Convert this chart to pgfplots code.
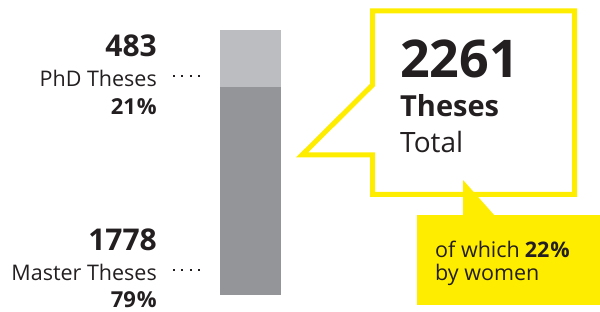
\documentclass[border=0pt]{standalone}
\usepackage{pgfplots}
\pgfplotsset{compat=1.18}
\usepackage{fontspec}
\setmainfont{Open Sans}
\definecolor{lgray}{HTML}{BCBDC0}
\definecolor{dgray}{HTML}{939598}
\definecolor{yel}{HTML}{FFED00}
\definecolor{txt}{HTML}{231F20}
\begin{document}
\begin{tikzpicture}[x=1pt,y=1pt]
\path (0,0) rectangle (600,311);
\begin{axis}[at={(220pt,16pt)},anchor=south west,scale only axis,
  width=61pt,height=265pt,xmin=0,xmax=1,ymin=0,ymax=2261,
  hide axis,clip=false,ybar stacked,bar width=61pt,bar shift=0pt]
\addplot[fill=dgray,draw=none] coordinates {(0.5,1778)};
\addplot[fill=lgray,draw=none] coordinates {(0.5,483)};
\end{axis}
% left labels
\begin{scope}[every node/.style={inner sep=0pt,text=txt}]
\node[anchor=base east,font=\fontsize{30}{30}\selectfont\bfseries] at (157,254) {483};
\node[anchor=base east,font=\fontsize{21.5}{21.5}\selectfont] at (157,224) {PhD Theses};
\node[anchor=base east,font=\fontsize{22}{22}\selectfont\bfseries] at (157,196) {21\hspace{1pt}\%};
\node[anchor=base east,font=\fontsize{30}{30}\selectfont\bfseries] at (157,61) {1778};
\node[anchor=base east,font=\fontsize{21.5}{21.5}\selectfont] at (157,31) {Master Theses};
\node[anchor=base east,font=\fontsize{22}{22}\selectfont\bfseries] at (157,4) {79\hspace{1pt}\%};
\end{scope}
\draw[txt,line width=1.8pt,dash pattern=on 1.8pt off 6.53pt] (173.1,235) -- (200,235);
\draw[txt,line width=1.8pt,dash pattern=on 1.8pt off 6.53pt] (173.1,41) -- (200,41);
% callout
\draw[yel,line width=5pt,miter limit=20] (372.5,226) -- (372.5,300) -- (574.5,300) -- (574.5,116.5) -- (372.5,116.5) -- (372.5,156) -- (302,156) -- cycle;
\fill[yel] (417,6) rectangle (600,96);
\fill[yel] (463,131) -- (463,95) -- (495,95) -- cycle;
\begin{scope}[every node/.style={inner sep=0pt,text=txt,anchor=base west}]
\node[font=\fontsize{52}{52}\selectfont\bfseries] at (400,233) {2261};
\node[font=\fontsize{29}{29}\selectfont\bfseries] at (400,194) {Theses};
\node[font=\fontsize{28}{28}\selectfont] at (400,158) {Total};
\node[font=\fontsize{21.5}{21.5}\selectfont] at (435,54) {of which\hspace{5pt}\textbf{22\hspace{1pt}\%}};
\node[font=\fontsize{21.5}{21.5}\selectfont] at (435,31) {by women};
\end{scope}
\end{tikzpicture}
\end{document}
